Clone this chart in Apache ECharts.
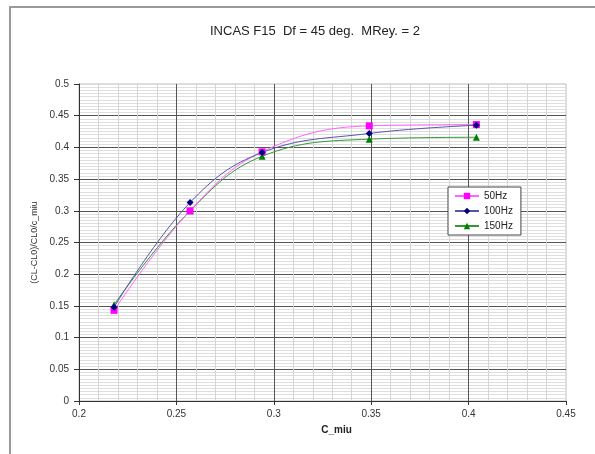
<!DOCTYPE html>
<html><head><meta charset="utf-8">
<script src="https://cdn.jsdelivr.net/npm/echarts@6/dist/echarts.min.js"></script>
<style>html,body{margin:0;padding:0;background:#fff}#c{width:595px;height:454px}</style>
</head><body><div id="c"></div>
<script>
const cMiu = [0.218, 0.257, 0.294, 0.349, 0.404];
const s50 = [0.143, 0.300, 0.393, 0.434, 0.436];
const s100 = [0.148, 0.313, 0.392, 0.422, 0.435];
const s150 = [0.152, 0.300, 0.386, 0.413, 0.416];
const seriesNames = ['50Hz', '100Hz', '150Hz'];

const chart = echarts.init(document.getElementById('c'));
const font = 'Liberation Sans, Arial, sans-serif';
function pairs(ys){ return cMiu.map((x,i)=>[x, ys[i]]); }
chart.setOption({
  animation: false,
  backgroundColor: '#fff',
  title: { text: 'INCAS F15  Df = 45 deg.  MRey. = 2', left: 310, top: 20, textAlign: 'center',
    textStyle: { fontFamily: font, fontSize: 13, fontWeight: 'normal', color: '#222' } },
  graphic: [{ type: 'rect', shape: { x: 10, y: 7, width: 600, height: 460 },
    style: { fill: 'none', stroke: '#999', lineWidth: 2 } }],
  legend: {
    left: 448, top: 187, orient: 'vertical', itemGap: 5, itemWidth: 24, itemHeight: 8,
    backgroundColor: '#fff', borderColor: '#444', borderWidth: 1, padding: [4, 8, 4, 6],
    textStyle: { fontFamily: font, fontSize: 10, color: '#222' },
    data: seriesNames
  },
  grid: { left: 79, right: 29, top: 84, bottom: 53, show: true, borderColor: '#bbb', borderWidth: 1 },
  xAxis: {
    type: 'value', min: 0.2, max: 0.45, interval: 0.05,
    name: 'C_miu', nameLocation: 'middle', nameGap: 24,
    nameTextStyle: { fontFamily: font, fontSize: 10, fontWeight: 'bold', color: '#222', padding: [0,0,0,28] },
    axisLine: { lineStyle: { color: '#333' } },
    axisTick: { show: true, inside: false, length: 4, lineStyle: { color: '#333' } },
    axisLabel: { fontFamily: font, fontSize: 10, color: '#333', margin: 8, formatter: v => String(+v.toFixed(2)) },
    splitLine: { show: true, showMinLine: false, showMaxLine: false, lineStyle: { color: '#555', width: 1 } },
    minorTick: { show: false, splitNumber: 5 },
    minorSplitLine: { show: true, lineStyle: { color: '#d4d4d4', width: 1 } }
  },
  yAxis: {
    type: 'value', min: 0, max: 0.5, interval: 0.05,
    name: '(CL-CL0)/CL0/c_miu', nameLocation: 'middle', nameGap: 40, nameRotate: 90,
    nameTextStyle: { fontFamily: font, fontSize: 9, color: '#333', padding: [0,0,0,0] },
    axisLine: { show: true, lineStyle: { color: '#333' } },
    axisTick: { show: true, inside: false, length: 5, lineStyle: { color: '#333' } },
    axisLabel: { fontFamily: font, fontSize: 10, color: '#333', margin: 10, formatter: v => String(+v.toFixed(2)) },
    splitLine: { show: true, showMinLine: false, showMaxLine: false, lineStyle: { color: '#555', width: 1 } },
    minorTick: { show: false, splitNumber: 10 },
    minorSplitLine: { show: true, lineStyle: { color: '#dedede', width: 1 } }
  },
  series: [
    { name: seriesNames[0], type: 'line', smooth: 0.4, data: pairs(s50), symbol: 'rect', symbolSize: 7,
      lineStyle: { color: '#ff66ff', width: 1 }, itemStyle: { color: '#ff00ff' }, z: 3 },
    { name: seriesNames[1], type: 'line', smooth: 0.4, data: pairs(s100), symbol: 'diamond', symbolSize: 7,
      lineStyle: { color: '#5555aa', width: 1 }, itemStyle: { color: '#000080' }, z: 4 },
    { name: seriesNames[2], type: 'line', smooth: 0.4, data: pairs(s150), symbol: 'triangle', symbolSize: 7,
      lineStyle: { color: '#339933', width: 1 }, itemStyle: { color: '#008000' }, z: 2 }
  ]
});
</script></body></html>
